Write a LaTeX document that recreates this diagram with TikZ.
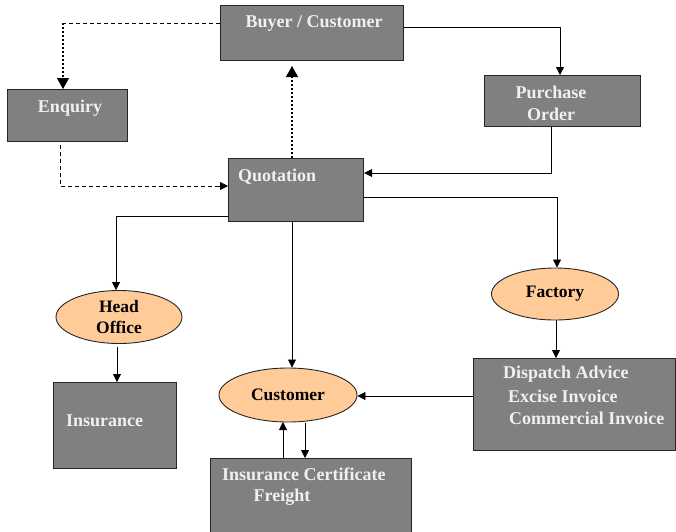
\documentclass[tikz,border=0pt]{standalone}
\usepackage{fontspec}
\setmainfont{Liberation Serif}
\usetikzlibrary{arrows.meta,shapes.geometric}
\definecolor{boxgray}{HTML}{808080}
\definecolor{peach}{HTML}{FFCC99}
\definecolor{boxtext}{HTML}{F0F0F0}
\tikzset{
  box/.style={draw=black!85, line width=1.2pt, fill=boxgray, rectangle, inner sep=0pt, anchor=north west},
  oval/.style={draw=black!85, line width=0.9pt, fill=peach, ellipse, inner sep=0pt, font=\fontsize{17.5}{21}\selectfont\bfseries},
  btext/.style={text=boxtext, font=\fontsize{18}{22}\selectfont\bfseries, inner sep=0pt},
  conn/.style={line width=0.8pt, -{Triangle[length=8pt,width=8pt]}},
  dashedconn/.style={line width=0.8pt, dash pattern=on 4pt off 3pt},
  dottedconn/.style={line width=1.6pt, dash pattern=on 1.6pt off 2.4pt},
  bigtip/.style={-{Triangle[length=11pt,width=12pt]}},
}
\begin{document}
\begin{tikzpicture}[x=1pt,y=-1pt]
\useasboundingbox (0,0) rectangle (676,531);
% boxes
\node[box, minimum width=183pt, minimum height=55pt] (buyer) at (220,5) {};
\node[btext] (buyert) at (314,23) {Buyer / Customer};
\node[box, minimum width=120pt, minimum height=52pt] (enq) at (7,89) {};
\node[btext] (enqt) at (70,108) {Enquiry};
\node[box, minimum width=156pt, minimum height=51pt] (po) at (484,75) {};
\node[btext, align=center] (pot) at (551,103) {Purchase\\Order};
\node[box, minimum width=135pt, minimum height=63pt] (quot) at (228,158) {};
\node[btext, anchor=west] (quott) at (238,177) {Quotation};
\node[box, minimum width=123pt, minimum height=86pt] (ins) at (53,382) {};
\node[btext, anchor=west] (inst) at (66,421) {Insurance};
\node[box, minimum width=202pt, minimum height=92pt] (disp) at (473,358) {};
\node[btext, anchor=west] (dispt1) at (503,374) {Dispatch Advice};
\node[btext, anchor=west] (dispt2) at (508,396) {Excise Invoice};
\node[btext, anchor=west] (dispt3) at (509,418) {Commercial Invoice};
\node[box, minimum width=201pt, minimum height=80pt] (cert) at (210,458) {};
\node[btext, anchor=west] (certt1) at (222,474) {Insurance Certificate};
\node[btext] (certt2) at (282,497) {Freight};
% ellipses
\node[oval, minimum width=126pt, minimum height=53pt, align=center] (head) at (119,317) {Head\\Office};
\node[oval, minimum width=138pt, minimum height=54pt] (cust) at (288,395) {Customer};
\node[oval, minimum width=127pt, minimum height=52pt] (fact) at (555,294) {Factory};
% connectors
\coordinate (c1) at (63,23);
\draw[dashedconn] (buyer.west |- 0,23) -- (c1);
\draw[dottedconn] (c1) -- (63,80);
\draw[line width=0.8pt, bigtip] (63,79) -- (enq.north -| 63,0);
\coordinate (c2) at (60,186);
\draw[dashedconn] (60,145) -- (c2) -- (218,186);
\draw[conn] (217,186) -- (quot.west |- 0,186);
\draw[dottedconn] (quot.north -| 292,0) -- (292,77);
\draw[line width=0.8pt, bigtip] (292,78) -- (292,66);
\coordinate (c3) at (560,27);
\draw[conn] (buyer.east |- 0,27) -- (c3) -- (po.north -| 560,0);
\coordinate (c4) at (551,173);
\draw[conn] (po.south -| 551,0) -- (c4) -- (quot.east |- 0,173);
\coordinate (c5) at (557,197);
\draw[conn] (quot.east |- 0,197) -- (c5) -- (fact.north -| 557,0);
\coordinate (c6) at (116,216);
\draw[conn] (quot.west |- 0,216) -- (c6) -- (head.north -| 116,0);
\draw[conn] (quot.south -| 292,0) -- (cust.north -| 292,0);
\draw[conn] (117,347) -- (ins.north -| 117,0);
\draw[conn] (fact.south -| 556,0) -- (disp.north -| 556,0);
\draw[conn] (disp.west |- 0,396) -- (cust.east |- 0,396);
\draw[conn] (cert.north -| 283,0) -- (283,422);
\draw[conn] (305,423) -- (cert.north -| 305,0);
\end{tikzpicture}
\end{document}
